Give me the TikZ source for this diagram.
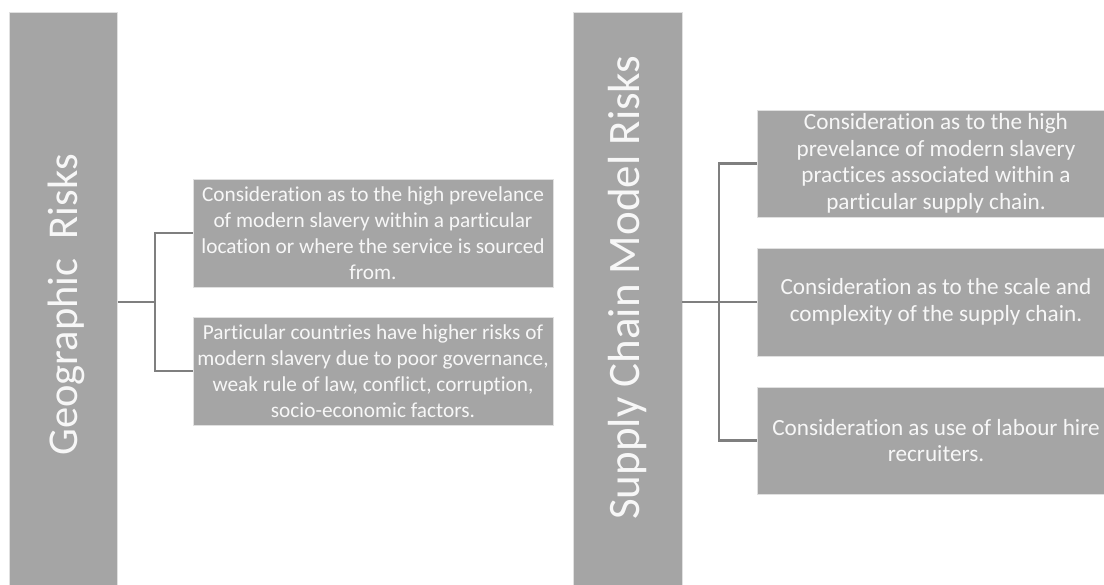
\documentclass[tikz,border=0pt]{standalone}
\usepackage{fontspec}
\setmainfont{Carlito}[Ligatures=NoCommon]
\definecolor{boxgray}{HTML}{A5A5A5}
\definecolor{linegray}{HTML}{7F7F7F}
\definecolor{txt}{HTML}{F7F7F7}
\begin{document}
\begin{tikzpicture}[x=1pt,y=-1pt,
  bar/.style={rectangle,fill=boxgray,draw=white!88!black,line width=0.6pt,inner sep=0pt},
  bartext/.style={text=txt,rotate=90,inner sep=0pt},
  item/.style={rectangle,fill=boxgray,draw=white!88!black,line width=0.6pt,inner sep=0pt,
    minimum width=360,minimum height=108,align=center,text=txt,
    font=\fontsize{21.3}{26}\selectfont},
  itemR/.style={item,minimum width=358,font=\fontsize{23.2}{26.6}\selectfont},
  conn/.style={draw=linegray,line width=2.2pt}]
\useasboundingbox (0,0) rectangle (1104,585);
% bars
\node[bar,minimum width=108,minimum height=580] (geo) at (63.5,302) {};
\node[bartext,font=\fontsize{42.5}{50}\selectfont] (geoT) at (66,305) {Geographic\ \ Risks};
\node[bar,minimum width=109,minimum height=580] (sc) at (627.5,302) {};
\node[bartext,font=\fontsize{45}{52}\selectfont] (scT) at (627,287.5) {Supply Chain Model Risks};
% left items
\node[item] (g1) at (373,233) {Consideration as to the high prevelance\\of modern slavery within a particular\\location or where the service is sourced\\from.};
\node[item] (g2) at (373,371) {Particular countries have higher risks of\\modern slavery due to poor governance,\\weak rule of law, conflict, corruption,\\socio-economic factors.};
% right items
\node[itemR,minimum height=107] (s1) at (936,163.5) {Consideration as to the high\\prevelance of modern slavery\\practices associated within a\\particular supply chain.};
\node[itemR] (s2) at (936,302) {Consideration as to the scale and\\complexity of the supply chain.};
\node[itemR,minimum height=107] (s3) at (936,440.5) {Consideration as use of labour hire\\recruiters.};
% connectors
\draw[conn] (geo.east) -- ++(37,0) coordinate (gj);
\draw[conn] (g1.west) -| (gj) |- (g2.west);
\draw[conn] (sc.east) -- (s2.west);
\draw[conn] (s1.west) -- ++(-38,0) coordinate (sj) -- (sj |- s3.west) -- (s3.west);
\end{tikzpicture}
\end{document}
